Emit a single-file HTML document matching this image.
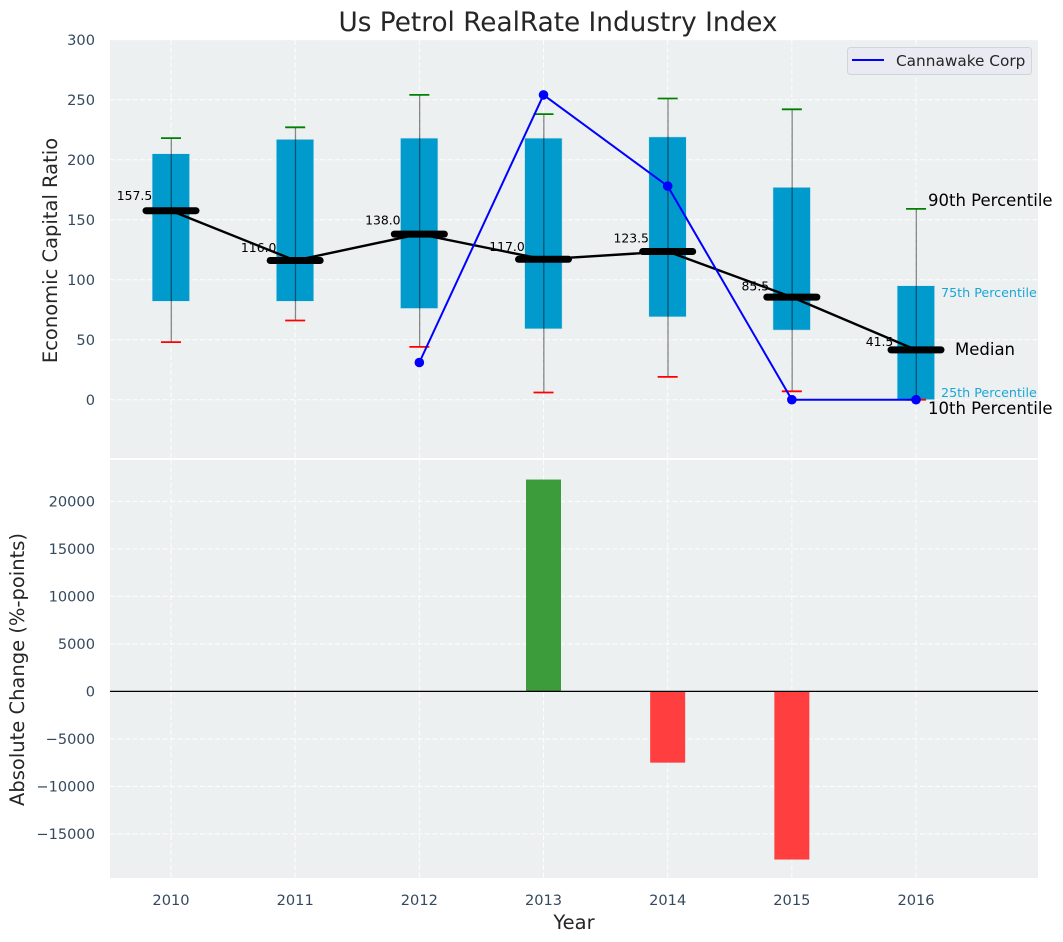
<!DOCTYPE html>
<html lang="en">
<head>
<meta charset="utf-8">
<title>Us Petrol RealRate Industry Index</title>
<style>
html,body{margin:0;padding:0;background:#fff;width:1063px;height:942px;overflow:hidden}
svg{display:block;font-family:"DejaVu Sans","Liberation Sans",sans-serif}
</style>
</head>
<body>
<svg id="chart" xmlns="http://www.w3.org/2000/svg" width="1063" height="942" viewBox="0 0 1063 942">
  <rect x="110" y="40" width="928" height="418" fill="#ecf0f1"/>
  <rect x="110" y="460" width="928" height="418" fill="#ecf0f1"/>
  <g id="grid"></g>
  <g id="boxes"></g>
  <g id="bars"></g>
  <g id="ticks"></g>
  <text x="558" y="31" font-size="26.3" fill="#262626" text-anchor="middle">Us Petrol RealRate Industry Index</text>
  <text transform="translate(57,250.5) rotate(-90)" font-size="19.5" fill="#262626" text-anchor="middle">Economic Capital Ratio</text>
  <text transform="translate(24,669.5) rotate(-90)" font-size="19.5" fill="#262626" text-anchor="middle">Absolute Change (%-points)</text>
  <text x="574" y="929" font-size="19.5" fill="#262626" text-anchor="middle">Year</text>
  <g>
    <rect x="847.5" y="47.5" width="184" height="27" rx="3" fill="#eaeaf2" stroke="#d2d4da"/>
    <line x1="852" y1="60" x2="884" y2="60" stroke="#0000ff" stroke-width="2"/>
    <text x="896" y="66" font-size="15.3" fill="#262626">Cannawake Corp</text>
  </g>
  <g>
    <text x="928" y="206" font-size="16.5" fill="#000">90th Percentile</text>
    <text x="941" y="297" font-size="12.7" fill="#1ca6d6">75th Percentile</text>
    <text x="955" y="355" font-size="16.5" fill="#000">Median</text>
    <text x="941" y="397" font-size="12.7" fill="#1ca6d6">25th Percentile</text>
    <text x="928" y="414" font-size="16.5" fill="#000">10th Percentile</text>
  </g>
</svg>
<script>
const years = [2010, 2011, 2012, 2013, 2014, 2015, 2016];
const p10 = [48, 66, 44, 6, 19, 7, 0];
const p25 = [82, 82, 76, 59, 69, 58, 0];
const medians = [157.5, 116, 138, 117, 123.5, 85.5, 41.5];
const p75 = [205, 217, 218, 218, 219, 177, 95];
const p90 = [218, 227, 254, 238, 251, 242, 159];
const companyValues = [null, null, 31, 254, 178, 0, 0];
const changeValues = [0, 0, 0, 22300, -7500, -17700, 0];
const topTicks = [0, 50, 100, 150, 200, 250, 300];
const bottomTicks = [-15000, -10000, -5000, 0, 5000, 10000, 15000, 20000];

const NS = 'http://www.w3.org/2000/svg';
function xScale(v) { return 171 + (v - 2010) * 124.17; }
function yTop(v) { return 399.7 - v * 1.2; }
function yBottom(v) { return 691.4 - v * 0.0095; }
function make(parent, tag, attrs, text) {
  const el = document.createElementNS(NS, tag);
  for (const k in attrs) el.setAttribute(k, attrs[k]);
  if (text !== undefined) el.textContent = text;
  parent.appendChild(el);
  return el;
}

const grid = document.getElementById('grid');
const boxes = document.getElementById('boxes');
const bars = document.getElementById('bars');
const ticks = document.getElementById('ticks');
const gridStyle = { stroke: '#ffffff', 'stroke-width': 1, 'stroke-dasharray': '5 2.5', opacity: 0.9 };

years.forEach(function (yr) {
  const x = xScale(yr);
  const a = make(grid, 'line', Object.assign({ x1: x, x2: x, y1: 40, y2: 458 }, gridStyle));
  
  
  const b = make(grid, 'line', Object.assign({ x1: x, x2: x, y1: 460, y2: 878 }, gridStyle));
  
  
  const t = make(ticks, 'text', { x: x, y: 905, 'font-size': 14.6, fill: '#34495e', 'text-anchor': 'middle' }, String(yr));
  
  
});
topTicks.forEach(function (v) {
  const y = yTop(v);
  const g = make(grid, 'line', Object.assign({ x1: 110, x2: 1038, y1: y, y2: y }, gridStyle));
  
  
  const t = make(ticks, 'text', { x: 95, y: y + 5.3, 'font-size': 14.6, fill: '#34495e', 'text-anchor': 'end' }, String(v));
  
  
});
bottomTicks.forEach(function (v) {
  const y = yBottom(v);
  const g = make(grid, 'line', Object.assign({ x1: 110, x2: 1038, y1: y, y2: y }, gridStyle));
  
  
  const t = make(ticks, 'text', { x: 95, y: y + 5, 'font-size': 14.6, fill: '#34495e', 'text-anchor': 'end' }, String(v).replace('-', '\u2212'));
  
  
});

years.forEach(function (yr, i) {
  const x = xScale(yr);
  const box = make(boxes, 'rect', { x: x - 18.9, y: yTop(p75[i]), width: 37.5, height: yTop(p25[i]) - yTop(p75[i]), fill: '#009acd', stroke: '#cfe6ee', 'stroke-width': 0.6 });
  
  
  const w = make(boxes, 'line', { x1: x + 0.3, x2: x + 0.3, y1: yTop(p90[i]), y2: yTop(p10[i]), stroke: '#000', 'stroke-width': 1.3, opacity: 0.45 });
  
  
  const hi = make(boxes, 'line', { x1: x - 10, x2: x + 10, y1: yTop(p90[i]), y2: yTop(p90[i]), stroke: '#008000', 'stroke-width': 1.8 });
  
  
  const lo = make(boxes, 'line', { x1: x - 10, x2: x + 10, y1: yTop(p10[i]), y2: yTop(p10[i]), stroke: '#ff0000', 'stroke-width': 1.8 });
  
  
});

const medianPath = make(boxes, 'polyline', {
  points: years.map(function (yr, i) { return xScale(yr) + ',' + yTop(medians[i]); }).join(' '),
  fill: 'none', stroke: '#000', 'stroke-width': 2.4
});



years.forEach(function (yr, i) {
  const x = xScale(yr);
  const y = yTop(medians[i]);
  const m = make(boxes, 'line', { x1: x - 25, x2: x + 25, y1: y, y2: y, stroke: '#000', 'stroke-width': 7, 'stroke-linecap': 'round' });
  
  
  const t = make(boxes, 'text', { x: x - 36.5, y: yTop(medians[i] * 1.05 + 5) + 4.5, 'font-size': 12.4, fill: '#000', 'text-anchor': 'middle' }, medians[i].toFixed(1));
  
  
});

const companyPts = [];
years.forEach(function (yr, i) {
  if (companyValues[i] !== null) companyPts.push([xScale(yr), yTop(companyValues[i])]);
});
const companyLine = make(boxes, 'polyline', {
  points: companyPts.map(function (p) { return p[0] + ',' + p[1]; }).join(' '),
  fill: 'none', stroke: '#0000ff', 'stroke-width': 2
});


companyPts.forEach(function (p) {
  const c = make(boxes, 'circle', { cx: p[0], cy: p[1], r: 4.8, fill: '#0000ff' });
  
  
});

years.forEach(function (yr, i) {
  const v = changeValues[i];
  if (!v) return;
  const x = xScale(yr);
  const y0 = yBottom(0);
  const y1 = yBottom(v);
  const r = make(bars, 'rect', {
    x: x - 17.5, y: Math.min(y0, y1), width: 35, height: Math.abs(y1 - y0),
    fill: v > 0 ? '#3c9c3c' : '#ff3f3f'
  });
  
  
});
const zero = make(bars, 'line', { x1: 110, x2: 1038, y1: yBottom(0), y2: yBottom(0), stroke: '#000', 'stroke-width': 1.3 });


</script>
</body>
</html>
